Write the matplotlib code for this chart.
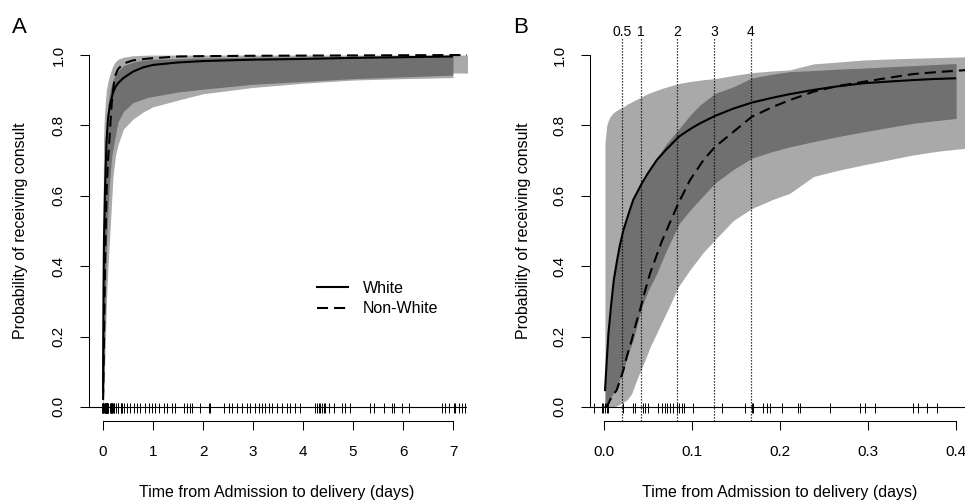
import matplotlib
matplotlib.use("Agg")
import matplotlib.pyplot as plt
from matplotlib.lines import Line2D
import numpy as np

plt.rcParams['font.family'] = ['Liberation Sans', 'DejaVu Sans']

# ---------------- Panel A data (days) ----------------
tA_W = [0.001, 0.005, 0.01, 0.02, 0.04, 0.07, 0.1, 0.14, 0.2, 0.25, 0.3, 0.41,
        0.6, 0.8, 1.0, 1.5, 2.0, 3.0, 4.0, 5.0, 6.0, 7.0]
A_white = [0.04, 0.2, 0.33, 0.48, 0.62, 0.755, 0.82, 0.86, 0.893, 0.91, 0.92, 0.935,
           0.953, 0.965, 0.972, 0.979, 0.983, 0.987, 0.989, 0.992, 0.994, 0.996]
A_white_lo = [0.0, 0.0, 0.01, 0.05, 0.15, 0.3, 0.4, 0.5, 0.655, 0.715, 0.745, 0.79,
              0.818, 0.838, 0.853, 0.872, 0.89, 0.908, 0.92, 0.929, 0.933, 0.936]
A_white_hi = [0.045, 0.25, 0.4, 0.55, 0.68, 0.8, 0.86, 0.9, 0.93, 0.945, 0.955, 0.97,
              0.98, 0.985, 0.988, 0.99, 0.992, 0.994, 0.995, 0.996, 0.997, 0.997]

tA_N = [0.001, 0.005, 0.01, 0.02, 0.03, 0.04, 0.06, 0.073, 0.1, 0.127, 0.15, 0.173,
        0.2, 0.24, 0.3, 0.41, 0.6, 0.9, 1.5, 2.0, 3.0, 5.0, 6.99, 7.0, 7.3]
A_nonwhite = [0.02, 0.05, 0.1, 0.2, 0.3, 0.4, 0.55, 0.616, 0.7, 0.758, 0.81, 0.86,
              0.9, 0.94, 0.96, 0.976, 0.985, 0.99, 0.996, 0.997, 0.998, 0.999, 1.0, 1.0, 1.0]
A_nonwhite_lo = [0.0, 0.01, 0.04, 0.1, 0.18, 0.26, 0.4, 0.47, 0.56, 0.63, 0.67, 0.71,
                 0.735, 0.765, 0.81, 0.84, 0.865, 0.88, 0.895, 0.903, 0.917, 0.933, 0.943, 0.949, 0.949]
A_nonwhite_hi = [0.3, 0.6, 0.75, 0.8, 0.83, 0.853, 0.89, 0.905, 0.925, 0.94, 0.95, 0.96,
                 0.97, 0.98, 0.988, 0.994, 0.998, 1.0, 1.0, 1.0, 1.0, 1.0, 1.0, 1.0, 1.0]

# ---------------- Panel B data (days) ----------------
tB_W = [0.001, 0.003, 0.005, 0.008, 0.011, 0.015, 0.018, 0.022, 0.028, 0.033, 0.043,
        0.05, 0.06, 0.07, 0.085, 0.098, 0.109, 0.126, 0.147, 0.168, 0.19, 0.211, 0.238,
        0.265, 0.295, 0.325, 0.351, 0.375, 0.4]
B_white = [0.045, 0.13, 0.21, 0.29, 0.36, 0.42, 0.46, 0.503, 0.55, 0.588, 0.636,
           0.665, 0.702, 0.73, 0.768, 0.79, 0.806, 0.827, 0.848, 0.865, 0.878, 0.889, 0.901,
           0.911, 0.92, 0.925, 0.929, 0.932, 0.934]
B_white_lo = [0.005, 0.012, 0.02, 0.03, 0.04, 0.06, 0.08, 0.105, 0.155, 0.19, 0.285,
              0.33, 0.38, 0.44, 0.52, 0.56, 0.59, 0.636, 0.675, 0.707, 0.725, 0.739, 0.754,
              0.768, 0.782, 0.795, 0.806, 0.813, 0.82]
B_white_hi = [0.05, 0.135, 0.215, 0.295, 0.365, 0.425, 0.465, 0.508, 0.555, 0.593, 0.641,
              0.67, 0.707, 0.745, 0.79, 0.83, 0.858, 0.891, 0.91, 0.935, 0.945, 0.953, 0.956,
              0.96, 0.963, 0.967, 0.97, 0.973, 0.976]

tB_N = [0.001, 0.003, 0.0049, 0.0068, 0.01, 0.0144, 0.018, 0.022, 0.026, 0.0314, 0.036,
        0.0409, 0.046, 0.0523, 0.0655, 0.075, 0.0845, 0.0977, 0.113, 0.126, 0.147, 0.168,
        0.192, 0.211, 0.238, 0.265, 0.295, 0.325, 0.351, 0.38, 0.41, 0.42]
B_nonwhite = [0.0, 0.004, 0.01, 0.02, 0.033, 0.048, 0.075, 0.105, 0.145, 0.19, 0.235,
              0.276, 0.325, 0.38, 0.47, 0.525, 0.579, 0.645, 0.702, 0.739, 0.782, 0.825,
              0.853, 0.872, 0.896, 0.912, 0.924, 0.936, 0.946, 0.952, 0.957, 0.958]
B_nonwhite_lo = [0.0, 0.0, 0.0, 0.0, 0.0, 0.003, 0.008, 0.014, 0.02, 0.038, 0.07,
                 0.1, 0.13, 0.17, 0.24, 0.29, 0.342, 0.39, 0.44, 0.475, 0.53, 0.564,
                 0.59, 0.607, 0.655, 0.672, 0.688, 0.703, 0.716, 0.727, 0.735, 0.737]
B_nonwhite_hi = [0.75, 0.8, 0.815, 0.825, 0.835, 0.843, 0.848, 0.853, 0.86, 0.867, 0.873,
                 0.879, 0.886, 0.893, 0.905, 0.912, 0.919, 0.925, 0.93, 0.933, 0.942, 0.95,
                 0.955, 0.958, 0.975, 0.98, 0.986, 0.989, 0.991, 0.993, 0.995, 0.995]

# observed times (rug), days
rug_days = [-0.012, -0.0027, -0.0008, 0.0011, 0.0030, 0.0049, 0.0220, 0.0333, 0.0352,
            0.0440, 0.0466, 0.0504, 0.0617, 0.0655, 0.0693, 0.0720, 0.0750, 0.0788,
            0.0826, 0.0856, 0.0883, 0.0909, 0.1015, 0.1337, 0.1600, 0.1678, 0.1697,
            0.1810, 0.1848, 0.1886, 0.2019, 0.2208, 0.2227, 0.2568, 0.2909, 0.2966,
            0.3080, 0.3515, 0.3572, 0.3667, 0.3780,
            0.41, 0.47, 0.54, 0.61, 0.67, 0.74, 0.84, 0.91, 0.97, 1.04, 1.11, 1.21,
            1.27, 1.37, 1.44, 1.61, 1.67, 1.74, 1.77, 1.94, 2.11, 2.14, 2.41, 2.51,
            2.57, 2.67, 2.77, 2.87, 2.94, 3.04, 3.11, 3.17, 3.24, 3.31, 3.37, 3.47,
            3.57, 3.67, 3.74, 3.84, 3.94, 4.24, 4.27, 4.31, 4.34, 4.37, 4.41, 4.44,
            4.51, 4.61, 4.77, 4.84, 4.94, 5.34, 5.41, 5.61, 5.77, 5.81, 5.97, 6.11,
            6.77, 6.84, 6.91, 7.01, 7.04, 7.11, 7.17, 7.24]

hours_marks = [0.5, 1, 2, 3, 4]
hours_labels = ["0.5", "1", "2", "3", "4"]

y_ticks = [0.0, 0.2, 0.4, 0.6, 0.8, 1.0]
y_ticklabels = ["0.0", "0.2", "0.4", "0.6", "0.8", "1.0"]
A_xticks = [0, 1, 2, 3, 4, 5, 6, 7]
A_xticklabels = ["0", "1", "2", "3", "4", "5", "6", "7"]
B_xticks = [0.0, 0.1, 0.2, 0.3, 0.4]
B_xticklabels = ["0.0", "0.1", "0.2", "0.3", "0.4"]

xlabel = "Time from Admission to delivery (days)"
ylabel = "Probability of receiving consult"

W, H = 965, 501
fig = plt.figure(figsize=(W / 100, H / 100), dpi=100)
axA = fig.add_axes([89 / W, 1 - 421 / H, 378 / W, 380 / H])
axB = fig.add_axes([590 / W, 1 - 421 / H, 380.2 / W, 380 / H])

BAND = dict(color='black', alpha=0.337, linewidth=0)
LW = 1.5
DASH = (5.3, 2.9)


def draw(ax, tW, w, wlo, whi, tN, n, nlo, nhi):
    ax.fill_between(tW, wlo, whi, **BAND, zorder=1)
    ax.fill_between(tN, nlo, nhi, **BAND, zorder=1)
    ax.plot(tW, w, color='black', lw=LW, solid_capstyle='butt', zorder=4, label='White')
    ax.plot(tN, n, color='black', lw=LW, linestyle=(0, DASH), zorder=4, label='Non-White')
    ax.axhline(0, color='black', lw=0.8, zorder=3)
    ax.vlines(rug_days, -0.016, 0.012, color='black', lw=0.7, zorder=3)


def style(ax, xlim, xticks, xticklabels, ylab_x, xlab_x):
    ax.set_xlim(*xlim)
    ax.set_ylim(-0.04, 1.04)
    ax.patch.set_alpha(0)
    for s in ['top', 'right']:
        ax.spines[s].set_visible(False)
    for s in ['left', 'bottom']:
        ax.spines[s].set_linewidth(0.75)
    ax.spines['left'].set_bounds(0, 1)
    ax.spines['bottom'].set_bounds(xticks[0], xticks[-1])
    ax.set_yticks(y_ticks)
    ax.set_yticklabels(y_ticklabels)
    ax.set_xticks(xticks)
    ax.set_xticklabels(xticklabels)
    ax.tick_params(length=6.5, width=0.75, pad=15.5, labelsize=11)
    for lbl in ax.get_yticklabels():
        lbl.set_rotation(90)
        lbl.set_ha('center')
        lbl.set_va('center')
    for lbl in ax.get_xticklabels():
        lbl.set_va('center')
    ax.set_xlabel(xlabel, fontsize=11.5)
    ax.xaxis.label.set_va('center')
    ax.xaxis.set_label_coords(xlab_x, -0.189)
    ax.set_ylabel(ylabel, fontsize=11.5)
    ax.yaxis.label.set_va('center')
    ax.yaxis.set_label_coords(ylab_x, 0.5)


draw(axA, tA_W, A_white, A_white_lo, A_white_hi, tA_N, A_nonwhite, A_nonwhite_lo, A_nonwhite_hi)
style(axA, (-0.28, 7.28), A_xticks, A_xticklabels, -0.1825, (277 - 89) / 378)

draw(axB, tB_W, B_white, B_white_lo, B_white_hi, tB_N, B_nonwhite, B_nonwhite_lo, B_nonwhite_hi)
style(axB, (-0.016, 0.416), B_xticks, B_xticklabels, -0.176, (780 - 590) / 380.2)

# hour markers in panel B
for h, lab in zip(hours_marks, hours_labels):
    x = h / 24
    axB.plot([x, x], [-0.04, 1.051], color='black', lw=0.9, linestyle=(0, (1, 1.4)),
             clip_on=False, zorder=5)
    axB.text(x, 1.066, lab, ha='center', va='center', fontsize=10)

# legend in panel A
handles = [Line2D([], [], color='black', lw=LW),
           Line2D([], [], color='black', lw=LW, linestyle=(0, DASH))]
axA.legend(handles, ['White', 'Non-White'], loc='center left',
           bbox_to_anchor=(317 / W, 1 - 298.5 / H), bbox_transform=fig.transFigure,
           frameon=False, fontsize=11.5, handlelength=1.94, handletextpad=0.94,
           labelspacing=0.36, borderpad=0, borderaxespad=0)

fig.text(12 / W, 1 - 33 / H, 'A', fontsize=16, ha='left', va='baseline')
fig.text(513 / W, 1 - 33 / H, 'B', fontsize=16, ha='left', va='baseline')

fig.savefig('out.png', dpi=100)
